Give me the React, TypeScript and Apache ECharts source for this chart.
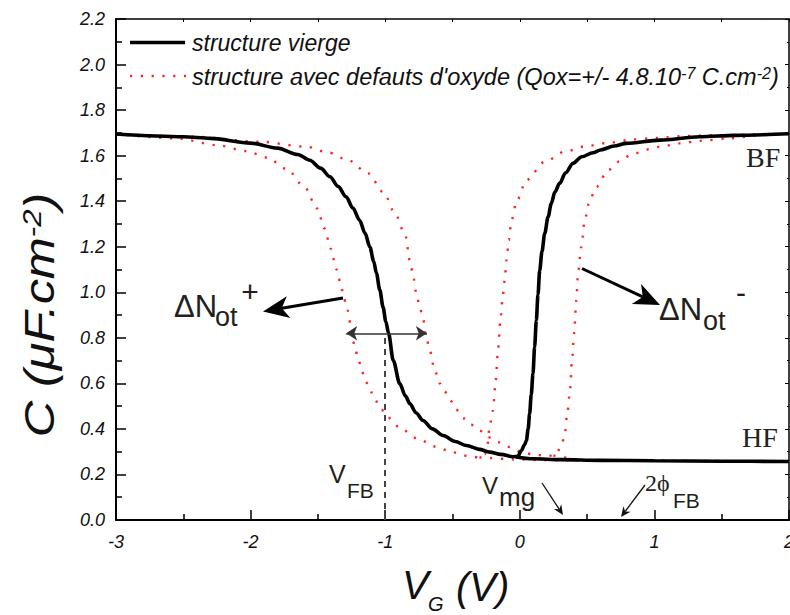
import React, { useEffect, useRef } from "react";
import * as echarts from "echarts";

// ---- axis settings ----
const xRange = [-3, 2];
const yRange = [0, 2.2];

// ---- data: structure vierge (black) ----
const viergeBF: number[][] = [
  [-3.0, 1.695], [-2.5, 1.683], [-2.3, 1.676], [-2.0, 1.655], [-1.8, 1.633], [-1.65, 1.605],
  [-1.56, 1.58], [-1.48, 1.545], [-1.41, 1.507], [-1.35, 1.465], [-1.29, 1.419], [-1.24, 1.37],
  [-1.19, 1.316], [-1.15, 1.26], [-1.114, 1.199], [-1.085, 1.135], [-1.065, 1.083], [-1.04, 1.01],
  [-1.016, 0.935], [-0.995, 0.87], [-0.975, 0.82], [-0.94, 0.7], [-0.892, 0.599], [-0.85, 0.545],
  [-0.817, 0.511], [-0.77, 0.47], [-0.719, 0.437], [-0.65, 0.4], [-0.57, 0.371], [-0.48, 0.345],
  [-0.396, 0.327], [-0.3, 0.31], [-0.224, 0.298], [-0.14, 0.288], [-0.05, 0.278], [-0.015, 0.279],
  [0.012, 0.305], [0.035, 0.33], [0.049, 0.349], [0.062, 0.4], [0.073, 0.467], [0.085, 0.55],
  [0.098, 0.643], [0.11, 0.76], [0.123, 0.877], [0.135, 0.99], [0.148, 1.097], [0.165, 1.18],
  [0.185, 1.258], [0.21, 1.33], [0.234, 1.39], [0.26, 1.44], [0.296, 1.478], [0.34, 1.525],
  [0.395, 1.566], [0.46, 1.595], [0.543, 1.613], [0.6, 1.625], [0.7, 1.642], [0.79, 1.654],
  [1.04, 1.668], [1.336, 1.683], [1.6, 1.689], [2.0, 1.696],
];
const viergeHF: number[][] = [
  [-0.03, 0.277], [0.1, 0.269], [0.3, 0.265], [0.6, 0.262], [1.0, 0.26], [1.5, 0.258], [2.0, 0.257],
];

// ---- data: structure avec defauts d'oxyde, Qox > 0 (shift to the left) ----
const qoxPlusBF: number[][] = [
  [-3.0, 1.695], [-2.55, 1.676], [-2.25, 1.646], [-2.03, 1.62], [-1.88, 1.592], [-1.73, 1.541],
  [-1.6, 1.463], [-1.506, 1.368], [-1.45, 1.28], [-1.406, 1.192], [-1.362, 1.101], [-1.32, 1.009],
  [-1.28, 0.921], [-1.25, 0.833], [-1.225, 0.752], [-1.2, 0.709], [-1.176, 0.66], [-1.15, 0.616],
  [-1.114, 0.572], [-1.077, 0.528], [-1.027, 0.484], [-0.978, 0.449], [-0.879, 0.398],
  [-0.756, 0.357], [-0.632, 0.323], [-0.496, 0.297], [-0.372, 0.279], [-0.3, 0.275],
  [-0.26, 0.29], [-0.24, 0.33], [-0.224, 0.415], [-0.199, 0.481], [-0.179, 0.613], [-0.162, 0.745],
  [-0.144, 0.877], [-0.129, 0.965], [-0.112, 1.053], [-0.099, 1.141], [-0.082, 1.229],
  [-0.062, 1.316], [-0.021, 1.404], [0.049, 1.492], [0.185, 1.573], [0.333, 1.617], [0.494, 1.642],
  [0.655, 1.656], [0.84, 1.671], [1.014, 1.678], [1.237, 1.686], [1.46, 1.69], [2.0, 1.697],
];
const qoxPlusHF: number[][] = [
  [-0.3, 0.275], [-0.224, 0.272], [-0.05, 0.266], [0.2, 0.263], [1.0, 0.26], [2.0, 0.257],
];

// ---- data: structure avec defauts d'oxyde, Qox < 0 (shift to the right) ----
const qoxMinusBF: number[][] = [
  [-3.0, 1.695], [-2.426, 1.683], [-1.93, 1.661], [-1.584, 1.639], [-1.424, 1.614], [-1.275, 1.58],
  [-1.127, 1.522], [-1.01, 1.437], [-0.924, 1.343], [-0.85, 1.25], [-0.817, 1.14], [-0.793, 1.075],
  [-0.768, 0.994], [-0.743, 0.935], [-0.719, 0.884], [-0.693, 0.797], [-0.669, 0.745],
  [-0.632, 0.657], [-0.595, 0.6], [-0.558, 0.565], [-0.52, 0.528], [-0.47, 0.484], [-0.42, 0.447],
  [-0.36, 0.418], [-0.298, 0.393], [-0.236, 0.364], [-0.162, 0.342], [-0.075, 0.32],
  [0.012, 0.298], [0.098, 0.288], [0.197, 0.282], [0.25, 0.283], [0.272, 0.291], [0.309, 0.327],
  [0.333, 0.371], [0.351, 0.459], [0.371, 0.555], [0.388, 0.7], [0.403, 0.818], [0.42, 0.965],
  [0.432, 1.082], [0.457, 1.199], [0.482, 1.316], [0.519, 1.404], [0.569, 1.463], [0.655, 1.536],
  [0.742, 1.575], [0.816, 1.6], [0.89, 1.614], [0.965, 1.629], [1.04, 1.639], [1.19, 1.654],
  [1.336, 1.665], [1.558, 1.676], [1.78, 1.69], [2.0, 1.698],
];
const qoxMinusHF: number[][] = [
  [0.25, 0.283], [0.5, 0.263], [1.0, 0.26], [2.0, 0.257],
];

// ---- annotation values (data coordinates) ----
const vFB = -1.0;
const shiftArrow = [-1.29, -0.69]; // double arrow between shifted curves
const shiftArrowY = 0.82;

const FONT = "Liberation Sans";
const SERIF = "Liberation Serif";
const INK = "#231f20";
const RED = "#ff2323";

function arrow(sx: number, sy: number, tx: number, ty: number, len: number, half: number, notch: number, lw: number, color: string) {
  const dx = tx - sx, dy = ty - sy;
  const d = Math.hypot(dx, dy);
  const ux = dx / d, uy = dy / d;
  const px = -uy, py = ux;
  const bx = tx - ux * len, by = ty - uy * len;
  const nx = tx - ux * notch, ny = ty - uy * notch;
  return [
    { type: "line", shape: { x1: sx, y1: sy, x2: nx, y2: ny }, style: { stroke: color, lineWidth: lw } },
    {
      type: "polygon",
      shape: { points: [[tx, ty], [bx + px * half, by + py * half], [nx, ny], [bx - px * half, by - py * half]] },
      style: { fill: color },
    },
  ];
}

function txt(text: string, x: number, y: number, fontSize: number, extra: any = {}) {
  return {
    type: "text",
    x,
    y,
    style: { text, fontSize, fontFamily: FONT, fill: INK, verticalAlign: "middle", align: "left", ...extra },
  };
}

export default function App() {
  const ref = useRef<HTMLDivElement>(null);
  useEffect(() => {
    const chart = echarts.init(ref.current!, null, { renderer: "svg" });
    const redLine = { color: RED, width: 2.4, type: [2.2, 8.6] as any, cap: "butt" as const };
    const blackLine = { color: "#000", width: 3.6 };
    const tickLabel = { fontSize: 18, fontStyle: "italic" as const, fontFamily: FONT, color: "#111" };

    const graphic: any[] = [
      // legend
      { type: "line", shape: { x1: 130, y1: 42.5, x2: 185, y2: 42.5 }, style: { stroke: "#000", lineWidth: 3.5 } },
      txt("structure vierge", 192, 43, 23, { fontStyle: "italic", fill: "#111" }),
      { type: "line", shape: { x1: 130, y1: 76, x2: 186, y2: 76 }, style: { stroke: RED, lineWidth: 2.4, lineDash: [2.2, 8.6] } },
      {
        type: "text",
        x: 192,
        y: 77,
        style: {
          text: "{a|structure avec defauts d'oxyde (Qox=+/- 4.8.10}{s|-7}{a| C.cm}{s|-2}{a|)}",
          verticalAlign: "middle",
          rich: {
            a: { fontSize: 23.5, fontStyle: "italic", fontFamily: FONT, fill: "#111" },
            s: { fontSize: 16, fontStyle: "italic", fontFamily: FONT, fill: "#111", verticalAlign: "top" },
          },
        },
      },
      // axis names
      {
        type: "text",
        x: 40,
        y: 315,
        rotation: Math.PI / 2,
        scaleX: 1.2,
        style: {
          text: "{a|C (μF.cm}{s|-2}{a|)}",
          align: "center",
          verticalAlign: "middle",
          rich: {
            a: { fontSize: 42, fontStyle: "italic", fontFamily: FONT, fill: "#111" },
            s: { fontSize: 26, fontStyle: "italic", fontFamily: FONT, fill: "#111", verticalAlign: "top" },
          },
        },
      },
      txt("V", 402, 585, 40, { fontStyle: "italic", fill: "#111" }),
      txt("G", 428, 604, 20, { fontStyle: "italic", fill: "#111" }),
      txt("(V)", 456, 587, 40, { fontStyle: "italic", fill: "#111" }),
      // ΔNot+
      txt("ΔN", 174, 306, 31),
      txt("ot", 215, 317, 27),
      txt("+", 250, 291, 30, { align: "center" }),
      ...arrow(343, 298, 263, 311.5, 26, 11, 19, 3, "#000"),
      // ΔNot-
      txt("ΔN", 659, 309, 31),
      txt("ot", 703, 321, 27),
      txt("-", 741, 292, 30, { align: "center" }),
      ...arrow(582, 268.5, 660, 305, 26, 11, 19, 3, "#000"),
      // VFB
      txt("V", 329, 474, 25),
      txt("FB", 347, 490, 21),
      // Vmg
      txt("V", 482, 485, 24),
      txt("mg", 499, 497, 26),
      ...arrow(542, 483, 563, 515, 10, 4.5, 7, 1.3, "#111"),
      // 2φFB
      txt("2ϕ", 645, 483, 24, { fontFamily: SERIF }),
      txt("FB", 673, 500, 21),
      ...arrow(645, 485, 621, 517, 10, 4.5, 7, 1.3, "#111"),
      // BF / HF
      txt("BF", 746, 157, 28, { fontFamily: SERIF, fill: "#222" }),
      txt("HF", 742, 437, 28, { fontFamily: SERIF, fill: "#222" }),
    ];

    chart.setOption({
      animation: false,
      backgroundColor: "#fff",
      grid: { left: 116, right: 1, top: 19, bottom: 95, containLabel: false, outerBoundsMode: "none" },
      xAxis: [
        {
          type: "value",
          min: xRange[0],
          max: xRange[1],
          interval: 1,
          axisLine: { onZero: false, lineStyle: { color: "#000", width: 2 } },
          axisTick: { inside: true, length: 10, lineStyle: { color: "#000", width: 1.5 } },
          minorTick: { show: true, splitNumber: 2, length: 6, lineStyle: { color: "#000", width: 1.5 } },
          splitLine: { show: false },
          axisLabel: { ...tickLabel, margin: 13 },
        },
        {
          type: "value",
          position: "top",
          min: xRange[0],
          max: xRange[1],
          interval: 0.5,
          axisLine: { onZero: false, lineStyle: { color: "#000", width: 1.5 } },
          axisTick: { inside: true, length: 3, lineStyle: { color: "#000", width: 1 } },
          splitLine: { show: false },
          axisLabel: { show: false },
        },
      ],
      yAxis: [
        {
          type: "value",
          min: yRange[0],
          max: yRange[1],
          interval: 0.2,
          axisLine: { onZero: false, lineStyle: { color: "#000", width: 2 } },
          axisTick: { inside: true, length: 10, lineStyle: { color: "#000", width: 1.5 } },
          minorTick: { show: true, splitNumber: 2, length: 6, lineStyle: { color: "#000", width: 1.5 } },
          splitLine: { show: false },
          axisLabel: { ...tickLabel, margin: 11, formatter: (v: number) => v.toFixed(1) },
        },
        {
          type: "value",
          position: "right",
          min: yRange[0],
          max: yRange[1],
          interval: 0.2,
          axisLine: { onZero: false, lineStyle: { color: "#000", width: 1.5 } },
          axisTick: { inside: true, length: 4, lineStyle: { color: "#000", width: 1 } },
          minorTick: { show: true, splitNumber: 2, length: 2, lineStyle: { color: "#000", width: 1 } },
          splitLine: { show: false },
          axisLabel: { show: false },
        },
      ],
      series: [
        { type: "line", name: "Qox+", data: qoxPlusHF, symbol: "none", smooth: 0.3, smoothMonotone: "x", lineStyle: redLine, z: 2 },
        { type: "line", name: "Qox-", data: qoxMinusHF, symbol: "none", smooth: 0.3, smoothMonotone: "x", lineStyle: redLine, z: 2 },
        { type: "line", name: "Qox+", data: qoxPlusBF, symbol: "none", smooth: 0.3, smoothMonotone: "x", lineStyle: redLine, z: 2 },
        {
          type: "line", name: "Qox-", data: qoxMinusBF, symbol: "none", smooth: 0.3, smoothMonotone: "x", lineStyle: redLine, z: 2,
          markLine: {
            silent: true,
            symbol: ["arrow", "arrow"],
            symbolSize: 11,
            label: { show: false },
            lineStyle: { color: "#333", width: 1.5, type: "solid" },
            data: [[{ coord: [shiftArrow[0], shiftArrowY] }, { coord: [shiftArrow[1], shiftArrowY] }]],
          },
        },
        {
          type: "line", name: "structure vierge", data: viergeBF, symbol: "none", smooth: 0.3, smoothMonotone: "x", lineStyle: blackLine, z: 3,
          markLine: {
            silent: true,
            symbol: ["none", "none"],
            label: { show: false },
            lineStyle: { color: "#444", width: 2, type: [6, 5] },
            data: [[{ coord: [vFB, 0] }, { coord: [vFB, 0.81] }]],
          },
        },
        { type: "line", name: "structure vierge", data: viergeHF, symbol: "none", smooth: 0.3, smoothMonotone: "x", lineStyle: blackLine, z: 3 },
      ],
      graphic,
    });
    return () => chart.dispose();
  }, []);
  return <div ref={ref} style={{ position: "absolute", left: 0, top: 0, width: 790, height: 615, background: "#fff" }} />;
}
